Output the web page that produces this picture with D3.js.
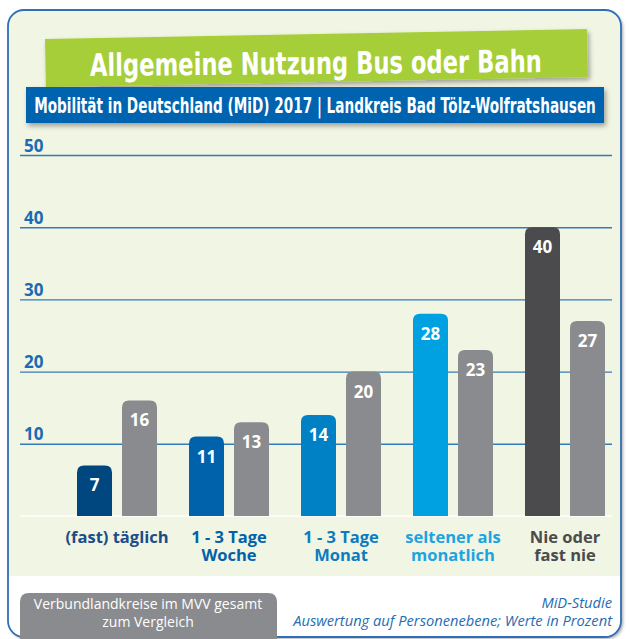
<!DOCTYPE html>
<html>
<head>
<meta charset="utf-8">
<script src="https://cdn.jsdelivr.net/npm/d3@7"></script>
<style>
  body { margin: 0; background: #fff; }
  svg { display: block; }
</style>
</head>
<body>
<div id="chart"></div>
<script>
// Data
const categoryLines = [["(fast) täglich"], ["1 - 3 Tage", "Woche"], ["1 - 3 Tage", "Monat"], ["seltener als", "monatlich"], ["Nie oder", "fast nie"]];
const categories = categoryLines.map(d => d.join(" "));
const series = ["MiD", "MVV"];
const midValues = [7, 11, 14, 28, 40];
const mvvValues = [16, 13, 20, 23, 27];
const yTicks = [10, 20, 30, 40, 50];

const title = "Allgemeine Nutzung Bus oder Bahn";
const subtitle = "Mobilität in Deutschland (MiD) 2017 | Landkreis Bad Tölz-Wolfratshausen";
const legendLines = ["Verbundlandkreise im MVV gesamt", "zum Vergleich"];
const sourceLines = ["MiD-Studie", "Auswertung auf Personenebene; Werte in Prozent"];

// Colours
const midColors = ["#00477f", "#0062aa", "#0080c5", "#00a1e0", "#4b4b4e"];
const labelColors = ["#1b4d88", "#0062aa", "#0b7cc0", "#1ba4e0", "#4b4b4e"];
const mvvColor = "#8a8b8e";
const gridColor = "#1f6db3";

const W = 630, H = 639;
const svg = d3.select("#chart").append("svg")
    .attr("width", W)
    .attr("height", H);

const defs = svg.append("defs");
const shadow = defs.append("filter").attr("id", "shadow")
    .attr("x", "-10%").attr("y", "-30%").attr("width", "120%").attr("height", "180%");
shadow.append("feDropShadow")
    .attr("dx", 2).attr("dy", 3).attr("stdDeviation", 2.5)
    .attr("flood-color", "#000").attr("flood-opacity", 0.35);

const boxShadow = defs.append("filter").attr("id", "boxShadow")
    .attr("x", "-5%").attr("y", "-5%").attr("width", "110%").attr("height", "110%");
boxShadow.append("feDropShadow")
    .attr("dx", 2).attr("dy", 2).attr("stdDeviation", 1.5)
    .attr("flood-color", "#555").attr("flood-opacity", 0.5);

// Outer rounded box
const box = {x: 8, y: 10, w: 613, h: 627, r: 16};
defs.append("clipPath").attr("id", "boxClip")
  .append("rect")
    .attr("x", box.x).attr("y", box.y)
    .attr("width", box.w).attr("height", box.h)
    .attr("rx", box.r);

svg.append("rect")
    .attr("x", box.x).attr("y", box.y)
    .attr("width", box.w).attr("height", box.h)
    .attr("rx", box.r)
    .attr("fill", "#fff")
    .attr("filter", "url(#boxShadow)");

const inner = svg.append("g").attr("clip-path", "url(#boxClip)");
inner.append("rect")
    .attr("x", box.x).attr("y", box.y)
    .attr("width", box.w).attr("height", 576 - box.y)
    .attr("fill", "#f1f5e3");

svg.append("rect")
    .attr("x", box.x).attr("y", box.y)
    .attr("width", box.w).attr("height", box.h)
    .attr("rx", box.r)
    .attr("fill", "none")
    .attr("stroke", "#2f6fb8")
    .attr("stroke-width", 1.8);

// Condensed text: squeeze horizontally to the wanted width
function squeezedText(str, cx, baseline, size, targetWidth, angle) {
  const g = svg.append("g");
  const t = g.append("text")
      .attr("text-anchor", "middle")
      .style("font-family", "'DejaVu Sans Condensed', 'DejaVu Sans', sans-serif")
      .style("font-weight", "bold")
      .style("font-size", size + "px")
      .attr("fill", "#fff")
      .text(str);
  const sx = targetWidth / t.node().getComputedTextLength();
  g.attr("transform", `translate(${cx},${baseline}) rotate(${angle}) scale(${sx},1)`);
}

// Title banners
svg.append("g")
    .attr("transform", "translate(45,39) rotate(-1.05)")
  .append("rect")
    .attr("width", 542).attr("height", 48)
    .attr("fill", "#a6ce39")
    .attr("filter", "url(#shadow)");

squeezedText(title, 316, 74, 31, 452, -0.5);

svg.append("rect")
    .attr("x", 26).attr("y", 87)
    .attr("width", 578).attr("height", 36)
    .attr("fill", "#0064b0")
    .attr("filter", "url(#shadow)");

squeezedText(subtitle, 315, 113, 21, 562, 0);

// Scales
const y = d3.scaleLinear().domain([0, 50]).range([516, 155]);
const x0 = d3.scaleBand().domain(categories).range([61, 621])
    .paddingInner(0.2857).paddingOuter(0.1429);
const x1 = d3.scaleBand().domain(series).range([0, x0.bandwidth()])
    .paddingInner(0.222);

// Grid via axis
const axis = svg.append("g")
    .attr("transform", "translate(20,0)")
    .call(d3.axisRight(y).tickValues(yTicks).tickSize(592));
axis.select(".domain").remove();
axis.selectAll(".tick line")
    .attr("stroke", gridColor)
    .attr("stroke-width", 1.4)
    .attr("opacity", 0.9);
axis.selectAll(".tick text")
    .attr("x", 4).attr("dy", -4)
    .attr("text-anchor", "start")
    .attr("fill", "#1a6ab4")
    .style("font-family", "'Open Sans', sans-serif")
    .style("font-weight", "bold")
    .style("font-size", "17px");

// Baseline
svg.append("line")
    .attr("x1", 20).attr("x2", 612)
    .attr("y1", y(0)).attr("y2", y(0))
    .attr("stroke", "#ffffff")
    .attr("stroke-width", 1.5);

// Bars with rounded tops
function barPath(x, top, w, bottom, r) {
  r = Math.min(r, (bottom - top));
  return `M${x},${bottom} V${top + r} Q${x},${top} ${x + r},${top} H${x + w - r} Q${x + w},${top} ${x + w},${top + r} V${bottom} Z`;
}

const rows = categories.map((c, i) => ({
  cat: c, i,
  vals: [{key: "MiD", v: midValues[i]}, {key: "MVV", v: mvvValues[i]}]
}));

const groups = svg.selectAll("g.group")
  .data(rows)
  .join("g")
    .attr("class", "group")
    .attr("transform", d => `translate(${x0(d.cat)},0)`);

groups.selectAll("path")
  .data(d => d.vals.map(v => ({...v, i: d.i})))
  .join("path")
    .attr("d", d => barPath(x1(d.key), y(d.v), x1.bandwidth(), y(0), 7))
    .attr("fill", d => d.key === "MiD" ? midColors[d.i] : mvvColor);

groups.selectAll("text.val")
  .data(d => d.vals)
  .join("text")
    .attr("class", "val")
    .attr("x", d => x1(d.key) + x1.bandwidth() / 2)
    .attr("y", d => y(d.v) + 26)
    .attr("text-anchor", "middle")
    .attr("fill", "#fff")
    .style("font-family", "'Open Sans', sans-serif")
    .style("font-weight", "bold")
    .style("font-size", "17px")
    .text(d => d.v);

// Category labels, one text per line
groups.each(function(d) {
  const g = d3.select(this);
  categoryLines[d.i].forEach((line, k) => {
    g.append("text")
        .attr("x", x0.bandwidth() / 2)
        .attr("y", 543 + k * 18)
        .attr("text-anchor", "middle")
        .attr("fill", labelColors[d.i])
        .style("font-family", "'Open Sans', sans-serif")
        .style("font-weight", "bold")
        .style("font-size", "16.5px")
        .text(line);
  });
});

// Legend box (bottom left)
svg.append("path")
    .attr("d", barPath(20, 593, 257, 645, 9))
    .attr("fill", mvvColor);
legendLines.forEach((line, k) => {
  svg.append("text")
      .attr("x", 148).attr("y", 609 + k * 18)
      .attr("text-anchor", "middle")
      .attr("fill", "#fff")
      .style("font-family", "'Open Sans', sans-serif")
      .style("font-size", "14px")
      .text(line);
});

// Source note (bottom right)
sourceLines.forEach((line, k) => {
  svg.append("text")
      .attr("x", 612).attr("y", 608 + k * 18)
      .attr("text-anchor", "end")
      .attr("fill", "#1f6db3")
      .style("font-family", "'Open Sans', sans-serif")
      .style("font-style", "italic")
      .style("font-size", "14.7px")
      .text(line);
});
</script>
</body>
</html>
